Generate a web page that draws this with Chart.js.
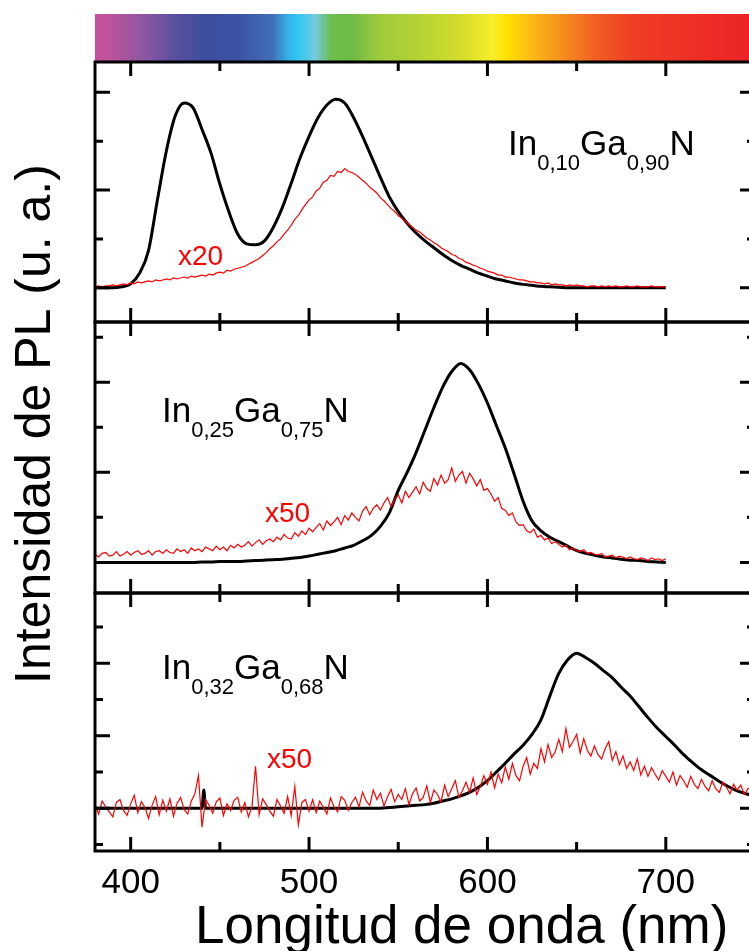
<!DOCTYPE html>
<html>
<head>
<meta charset="utf-8">
<script src="https://cdn.jsdelivr.net/npm/chart.js@4.4.1/dist/chart.umd.min.js"></script>
<style>
  html, body { margin: 0; padding: 0; background: #fff; overflow: hidden; }
  #wrap { position: relative; width: 749px; height: 951px; overflow: hidden; }
  #wrap canvas { position: absolute; left: 0; top: 0; }
  #bar {
    position: absolute; left: 95px; top: 14px; width: 660px; height: 47px;
    background: linear-gradient(to right,
      #c4509b 0%, #bf539c 2%, #8c57a1 7.6%, #5b4f9f 12%, #3c4e9e 16.6%, #3b53a3 21.7%,
      #4170b7 27%, #34b4e9 29.4%, #2ec6f2 30.7%, #74cbe1 33.3%, #6cbd4a 35.9%, #6dbb46 39%,
      #9dcb3c 43%, #b4d235 49%, #d6dd2a 55.8%, #f8ee2b 60.3%, #ffe000 62.5%, #fdbb14 66%,
      #f7951d 70%, #f15b24 76.3%, #ee3e24 81.5%, #ec2227 100%);
  }
</style>
</head>
<body>
<div id="wrap">
  <div id="bar"></div>
  <canvas id="p1" width="760" height="951"></canvas>
  <canvas id="p2" width="760" height="951"></canvas>
  <canvas id="p3" width="760" height="951"></canvas>
</div>
<script>
const FONT = '"Liberation Sans", Arial, sans-serif';

// ось X (нм)
const xMin = 380, xMax = 750;
const xMajor = [400, 500, 600, 700];
const xMinor = [450, 550, 650];

// деления оси Y для каждой панели
const y1Major = [0, 1, 2], y1Minor = [0.5, 1.5];
const y2Major = [0, 1, 2], y2Minor = [0.5, 1.5, 2.5];
const y3Major = [0, 1, 2], y3Minor = [-0.5, 0.5, 1.5, 2.5];

// длины волн для черных кривых
const wl5 = [380,385,390,395,400,405,410,415,420,425,430,435,440,445,450,455,460,465,470,475,
  480,485,490,495,500,505,510,515,520,525,530,535,540,545,550,555,560,565,570,575,
  580,585,590,595,600,605,610,615,620,625,630,635,640,645,650,655,660,665,670,675,
  680,685,690,695,700];
const wl3 = [380,385,390,395,400,405,410,415,420,425,430,435,440,441,442,
  445,450,455,460,465,470,475,480,485,490,495,500,505,510,515,520,525,530,535,540,
  545,550,555,560,565,570,575,580,585,590,595,600,605,610,615,620,625,630,635,640,
  645,650,655,660,665,670,675,680,685,690,695,700,705,710,715,720,725,730,735,740,745,750];

// In0,10Ga0,90N
const black1 = [0,0,0,0.01,0.04,0.15,0.38,0.90,1.40,1.76,
  1.89,1.84,1.62,1.38,1.06,0.78,0.55,0.45,0.44,0.48,
  0.62,0.82,1.07,1.33,1.55,1.74,1.87,1.93,1.89,1.74,
  1.55,1.34,1.13,0.93,0.78,0.66,0.56,0.48,0.41,0.34,
  0.28,0.23,0.19,0.15,0.12,0.09,0.07,0.05,0.035,0.025,
  0.015,0.01,0.005,0,0,0,0,0,0,0,
  0,0,0,0,0];
// In0,25Ga0,75N
const black2 = [0,0,0,0,0,0,0,0,0,0,0,0,
  0.005,0.005,0.01,0.01,0.01,0.015,0.02,0.025,0.03,0.035,
  0.045,0.055,0.07,0.09,0.11,0.13,0.16,0.19,0.24,0.30,
  0.40,0.55,0.80,1.00,1.22,1.47,1.72,1.95,2.12,2.21,
  2.14,1.98,1.77,1.52,1.27,0.98,0.68,0.46,0.35,0.28,
  0.23,0.18,0.13,0.10,0.08,0.06,0.05,0.035,0.025,0.02,
  0.01,0.005,0];
// In0,32Ga0,68N
const black3 = [0,0,0,0,0,0,0,0,0,0,0,0,
  0,0.25,0,
  0,0,0,0,0,0,0,0,0,0,0,0,0,0,0,0,0,0,0,0,
  0.01,0.02,0.03,0.04,0.05,0.07,0.10,0.13,0.17,0.22,
  0.29,0.38,0.50,0.62,0.75,0.87,1.02,1.22,1.55,1.86,
  2.05,2.14,2.08,2.00,1.90,1.80,1.67,1.55,1.40,1.25,
  1.11,0.99,0.87,0.74,0.63,0.53,0.45,0.37,0.30,0.24,
  0.20,0.17];

// красные кривые (x20, x50, x50), шаг 2 нм от 380
const redStart = 380, redStep = 2;
const red1 = [
  0.01,0.02,0.01,0.02,0.02,0.03,0.02,0.03,0.04,0.03,
  0.05,0.04,0.06,0.05,0.06,0.07,0.06,0.08,0.07,0.08,
  0.09,0.08,0.10,0.09,0.10,0.11,0.10,0.12,0.11,0.12,
  0.13,0.12,0.14,0.13,0.15,0.16,0.15,0.18,0.17,0.19,
  0.20,0.21,0.22,0.24,0.26,0.28,0.30,0.33,0.36,0.40,
  0.43,0.47,0.50,0.55,0.59,0.64,0.70,0.74,0.80,0.85,
  0.90,0.93,0.99,1.02,1.08,1.10,1.15,1.14,1.19,1.18,
  1.22,1.19,1.18,1.16,1.13,1.10,1.07,1.03,1.00,0.97,
  0.92,0.89,0.85,0.81,0.78,0.74,0.71,0.68,0.65,0.62,
  0.59,0.57,0.54,0.51,0.49,0.46,0.44,0.41,0.39,0.37,
  0.34,0.33,0.30,0.29,0.26,0.25,0.23,0.22,0.20,0.19,
  0.17,0.16,0.15,0.13,0.13,0.11,0.11,0.10,0.09,0.08,
  0.08,0.07,0.06,0.06,0.05,0.05,0.04,0.05,0.03,0.04,
  0.03,0.03,0.02,0.03,0.02,0.03,0.02,0.02,0.01,0.02,
  0.02,0.01,0.02,0.01,0.02,0.01,0.02,0.01,0.01,0.02,
  0.01,0.01,0.02,0.01,0.01,0.01,0.02,0.01,0.01,0.01,
  0.01];
const red2 = [
  0.09,0.06,0.10,0.11,0.07,0.08,0.12,0.07,0.09,0.12,
  0.08,0.11,0.13,0.09,0.10,0.13,0.08,0.12,0.13,0.10,
  0.14,0.11,0.10,0.15,0.12,0.14,0.10,0.16,0.13,0.15,
  0.12,0.17,0.15,0.13,0.18,0.14,0.17,0.13,0.19,0.16,
  0.20,0.17,0.19,0.23,0.18,0.22,0.25,0.20,0.24,0.26,
  0.23,0.28,0.25,0.31,0.27,0.26,0.33,0.29,0.35,0.31,
  0.38,0.34,0.39,0.43,0.36,0.46,0.41,0.45,0.50,0.42,
  0.52,0.47,0.55,0.50,0.46,0.57,0.62,0.53,0.60,0.64,
  0.58,0.66,0.72,0.62,0.70,0.75,0.66,0.79,0.72,0.78,
  0.84,0.76,0.89,0.82,0.79,0.93,0.86,0.97,0.88,0.92,
  1.05,0.90,0.97,1.01,0.88,0.99,0.93,0.85,0.92,0.80,
  0.82,0.76,0.68,0.72,0.60,0.58,0.52,0.55,0.45,0.41,
  0.42,0.35,0.33,0.37,0.28,0.30,0.25,0.27,0.21,0.23,
  0.20,0.17,0.19,0.14,0.16,0.13,0.12,0.14,0.10,0.11,
  0.09,0.08,0.10,0.06,0.07,0.08,0.05,0.07,0.06,0.04,
  0.06,0.04,0.03,0.05,0.04,0.02,0.05,0.03,0.04,0.02,
  0.04];
const red3 = [
  0.05,-0.08,0.10,0.02,-0.05,-0.12,0.08,0.12,-0.03,-0.10,
  0.06,0.18,-0.06,0.09,0.01,-0.14,0.04,0.16,-0.09,0.11,
  -0.04,0.13,-0.11,0.07,0.15,-0.02,-0.08,0.10,0.20,0.45,
  -0.26,0.12,0.04,-0.07,0.09,0.14,-0.10,0.06,-0.03,0.11,
  0.15,-0.05,0.08,-0.12,0.02,0.58,-0.09,0.13,0.05,-0.04,
  -0.11,0.12,0.03,-0.07,0.16,-0.10,0.30,-0.23,0.08,0.12,
  -0.04,0.12,-0.06,0.10,0.01,-0.08,0.14,0.02,-0.05,0.16,
  0.11,-0.03,0.08,0.15,0.02,0.22,0.10,0.04,0.25,0.12,
  0.21,0.03,0.16,0.26,0.09,0.19,0.12,0.27,0.05,0.20,
  0.28,0.10,0.15,0.31,0.08,0.25,0.19,0.09,0.32,0.16,
  0.27,0.38,0.15,0.24,0.36,0.22,0.42,0.19,0.30,0.45,
  0.33,0.50,0.28,0.47,0.35,0.57,0.40,0.62,0.45,0.38,
  0.58,0.70,0.47,0.62,0.55,0.82,0.64,0.88,0.70,0.78,
  0.95,0.78,1.10,0.84,0.92,1.02,0.76,0.96,0.80,0.72,
  0.86,0.74,0.68,0.82,0.92,0.66,0.78,0.60,0.72,0.55,
  0.64,0.52,0.68,0.46,0.58,0.44,0.56,0.47,0.39,0.52,
  0.44,0.36,0.50,0.32,0.45,0.38,0.29,0.44,0.33,0.27,
  0.40,0.30,0.24,0.38,0.27,0.22,0.36,0.29,0.20,0.33,
  0.25,0.32,0.19,0.27,0.29,
  0.22];

function pts(wl, vals) { return vals.map((v, i) => ({ x: wl[i], y: v })); }
function redPts(vals) { return vals.map((v, i) => ({ x: redStart + i * redStep, y: v })); }

// рамка, внутренние засечки и подписи панели
const panelPlugin = {
  id: 'panel',
  afterDatasetsDraw(chart, args, o) {
    const { ctx, chartArea: a, scales: { x, y } } = chart;
    ctx.save();
    ctx.strokeStyle = '#000';
    ctx.lineWidth = 3;
    ctx.beginPath();
    const xt = (v, len) => {
      const p = x.getPixelForValue(v);
      ctx.moveTo(p, a.bottom); ctx.lineTo(p, a.bottom - len);
      ctx.moveTo(p, a.top); ctx.lineTo(p, a.top + len);
    };
    const yt = (v, len) => {
      const p = y.getPixelForValue(v);
      ctx.moveTo(a.left, p); ctx.lineTo(a.left + len, p);
      ctx.moveTo(a.right, p); ctx.lineTo(a.right - len, p);
    };
    xMajor.forEach(v => xt(v, 14));
    xMinor.forEach(v => xt(v, 9));
    o.yMajor.forEach(v => yt(v, 15));
    o.yMinor.forEach(v => yt(v, 8));
    ctx.stroke();
    ctx.strokeRect(a.left, a.top, a.right - a.left, a.bottom - a.top);

    // формула состава
    ctx.fillStyle = '#000';
    ctx.textBaseline = 'alphabetic';
    ctx.textAlign = 'left';
    let tx = a.left + o.label.dx;
    const ty = a.top + o.label.dy;
    o.label.parts.forEach(([t, sub]) => {
      ctx.font = (sub ? 22 : 35) + 'px ' + FONT;
      ctx.fillText(t, tx, sub ? ty + 15 : ty);
      tx += ctx.measureText(t).width;
    });

    // множитель
    ctx.fillStyle = '#ff0000';
    ctx.font = '28px ' + FONT;
    ctx.fillText(o.mult.text, a.left + o.mult.dx, a.top + o.mult.dy);

    // названия осей
    if (o.yTitle) {
      ctx.fillStyle = '#000';
      ctx.font = '50px ' + FONT;
      ctx.translate(50, 424);
      ctx.rotate(-Math.PI / 2);
      ctx.textAlign = 'center';
      ctx.fillText(o.yTitle, 0, 0);
      ctx.setTransform(1, 0, 0, 1, 0, 0);
    }
    if (o.xTitle) {
      ctx.fillStyle = '#000';
      ctx.font = '53px ' + FONT;
      ctx.textAlign = 'left';
      ctx.fillText(o.xTitle, a.left + 100, a.bottom + 92);
    }
    ctx.restore();
  }
};

function makePanel(id, cfg) {
  return new Chart(document.getElementById(id), {
    type: 'line',
    data: {
      datasets: [
        { data: redPts(cfg.red), borderColor: '#ff0000', borderWidth: 1.2, pointRadius: 0, tension: 0 },
        { data: pts(cfg.wl, cfg.black), borderColor: '#000000', borderWidth: 3, pointRadius: 0,
          cubicInterpolationMode: 'monotone', borderJoinStyle: 'round' }
      ]
    },
    options: {
      responsive: false,
      animation: false,
      events: [],
      layout: { padding: { left: 95, right: 5, top: cfg.top, bottom: cfg.bottom } },
      plugins: {
        legend: { display: false },
        tooltip: { enabled: false },
        panel: cfg.panel
      },
      scales: {
        x: {
          type: 'linear', min: xMin, max: xMax,
          display: cfg.showX,
          afterBuildTicks: s => { s.ticks = xMajor.map(v => ({ value: v })); },
          afterFit: s => { if (cfg.showX) s.height = 100; },
          grid: { display: false, drawTicks: false },
          border: { display: false },
          ticks: { color: '#000', padding: 11, maxRotation: 0, autoSkip: false, font: { family: FONT, size: 35 } }
        },
        y: { type: 'linear', min: cfg.yMin, max: cfg.yMax, display: false }
      }
    },
    plugins: [panelPlugin]
  });
}

makePanel('p1', {
  top: 62, bottom: 629, showX: false, yMin: -0.35, yMax: 2.31,
  wl: wl5, black: black1, red: red1,
  panel: {
    yMajor: y1Major, yMinor: y1Minor,
    label: { dx: 413, dy: 93, parts: [['In', 0], ['0,10', 1], ['Ga', 0], ['0,90', 1], ['N', 0]] },
    mult: { text: 'x20', dx: 83, dy: 203 }
  }
});
makePanel('p2', {
  top: 322, bottom: 358, showX: false, yMin: -0.34, yMax: 2.67,
  wl: wl5, black: black2, red: red2,
  panel: {
    yMajor: y2Major, yMinor: y2Minor,
    label: { dx: 67, dy: 100, parts: [['In', 0], ['0,25', 1], ['Ga', 0], ['0,75', 1], ['N', 0]] },
    mult: { text: 'x50', dx: 170, dy: 200 },
    yTitle: 'Intensidad de PL (u. a.)'
  }
});
makePanel('p3', {
  top: 593, bottom: 0, showX: true, yMin: -0.59, yMax: 2.97,
  wl: wl3, black: black3, red: red3,
  panel: {
    yMajor: y3Major, yMinor: y3Minor,
    label: { dx: 67, dy: 86, parts: [['In', 0], ['0,32', 1], ['Ga', 0], ['0,68', 1], ['N', 0]] },
    mult: { text: 'x50', dx: 172, dy: 175 },
    xTitle: 'Longitud de onda (nm)'
  }
});
</script>
</body>
</html>
